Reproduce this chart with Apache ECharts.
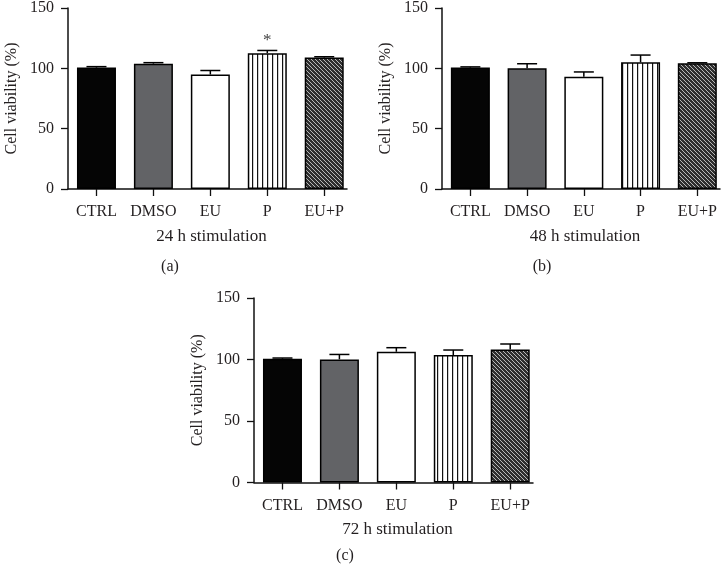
<!DOCTYPE html>
<html>
<head>
<meta charset="utf-8">
<script src="https://cdn.jsdelivr.net/npm/echarts@6/dist/echarts.min.js"></script>
<style>
html,body{margin:0;padding:0;background:#fff;}
#chart{width:727px;height:569px;}
</style>
</head>
<body>
<div id="chart"></div>
<script>
// ---- data ----
var categories = ['CTRL', 'DMSO', 'EU', 'P', 'EU+P'];
var valuesA = [100.6, 103.9, 94.9, 112.6, 109.0];
var errorsA = [0.8, 0.8, 3.3, 2.2, 0.6];
var sigA = ['', '', '', '*', ''];
var valuesB = [100.6, 100.0, 93.0, 105.0, 104.2];
var errorsB = [0.6, 3.8, 4.0, 6.0, 0.4];
var sigB = ['', '', '', '', ''];
var valuesC = [100.6, 100.1, 106.3, 103.6, 108.2];
var errorsC = [0.6, 4.0, 3.3, 4.1, 4.4];
var sigC = ['', '', '', '', ''];
var yTicks = [0, 50, 100, 150];
var xNames = ['24 h stimulation', '48 h stimulation', '72 h stimulation'];
var panelLabels = ['(a)', '(b)', '(c)'];
var yName = 'Cell viability (%)';

// ---- styles ----
var FONT = '"Liberation Serif", "DejaVu Serif", serif';
var TXT = '#231f20';
function makePattern(w, h, bg, fg, draw) {
  var c = document.createElement('canvas');
  c.width = w; c.height = h;
  var ctx = c.getContext('2d');
  ctx.fillStyle = bg; ctx.fillRect(0, 0, w, h);
  ctx.fillStyle = fg;
  draw(ctx);
  return { image: c, repeat: 'repeat' };
}
var vertPattern = makePattern(5, 5, '#ffffff', '#111111', function (ctx) {
  ctx.fillRect(2, 0, 1.2, 5);
});
var diagPattern = makePattern(4, 4, '#2e2e2e', '#b8b8b8', function (ctx) {
  for (var i = 0; i < 4; i++) ctx.fillRect(i, i, 1, 1);
});
var fills = ['#050505', '#626366', '#ffffff', vertPattern, diagPattern];

var grids = [
  { left: 68, top: 5, width: 279, height: 184 },
  { left: 442, top: 5, width: 278, height: 184 },
  { left: 254, top: 298, width: 279, height: 184.5 }
];
var panels = [
  { v: valuesA, e: errorsA, s: sigA },
  { v: valuesB, e: errorsB, s: sigB },
  { v: valuesC, e: errorsC, s: sigC }
];
var catIdx = categories.map(function (_, i) { return i; });

var xAxes = [], yAxes = [], series = [];
panels.forEach(function (p, k) {
  xAxes.push({
    gridIndex: k, type: 'value', min: -0.5, max: 4.4,
    name: xNames[k], nameLocation: 'middle', nameGap: 39,
    nameTextStyle: { fontFamily: FONT, fontSize: 17, color: TXT, padding: [0, 0, 0, 8] },
    axisLine: { show: true, onZero: false, lineStyle: { color: '#111', width: 1.5 } },
    axisTick: { show: true, length: 7, lineStyle: { color: '#111', width: 1.3 }, customValues: catIdx },
    axisLabel: {
      show: true, margin: 15, customValues: catIdx,
      fontFamily: FONT, fontSize: 16, color: TXT,
      formatter: function (v) { return categories[Math.round(v)]; }
    },
    splitLine: { show: false }
  });
  yAxes.push({
    gridIndex: k, type: 'value', min: 0, max: 150, interval: 50,
    name: yName, nameLocation: 'middle', nameGap: 48,
    nameTextStyle: { fontFamily: FONT, fontSize: 16, color: TXT },
    axisLine: { show: true, onZero: false, lineStyle: { color: '#111', width: 1.5 } },
    axisTick: { show: true, length: 7, lineStyle: { color: '#111', width: 1.3 } },
    axisLabel: { margin: 14, fontFamily: FONT, fontSize: 16, color: TXT },
    splitLine: { show: false }
  });
  series.push({
    type: 'bar', xAxisIndex: k, yAxisIndex: k, barWidth: 39,
    data: p.v.map(function (val, i) {
      return { value: [i, val], itemStyle: { color: fills[i], borderColor: '#000', borderWidth: 1.5 } };
    }),
    animation: false
  });
  series.push({
    type: 'custom', xAxisIndex: k, yAxisIndex: k, z: 5,
    data: p.v.map(function (val, i) { return [i, val, p.e[i]]; }),
    renderItem: function (params, api) {
      var x = api.value(0), m = api.value(1), e = api.value(2);
      var base = api.coord([x, m]);
      var top = api.coord([x, m + e]);
      var half = 10;
      var children = [
        { type: 'line', shape: { x1: base[0], y1: base[1], x2: top[0], y2: top[1] }, style: { stroke: '#000', lineWidth: 1.5 } },
        { type: 'line', shape: { x1: top[0] - half, y1: top[1], x2: top[0] + half, y2: top[1] }, style: { stroke: '#000', lineWidth: 1.5 } }
      ];
      var s = p.s[params.dataIndex];
      if (s) {
        children.push({ type: 'text', x: top[0], y: top[1] - 10,
          style: { text: s, fill: '#444', font: '17px ' + FONT, align: 'center', verticalAlign: 'middle' } });
      }
      return { type: 'group', children: children };
    },
    animation: false
  });
});

var labelPos = [[170, 267], [542, 267], [345, 556]];
var graphics = panelLabels.map(function (t, k) {
  return { type: 'text', x: labelPos[k][0], y: labelPos[k][1],
    style: { text: t, fill: TXT, font: '16px ' + FONT, align: 'center', verticalAlign: 'middle' } };
});

var chart = echarts.init(document.getElementById('chart'), null, { renderer: 'canvas' });
chart.setOption({
  backgroundColor: '#ffffff',
  animation: false,
  grid: grids,
  xAxis: xAxes,
  yAxis: yAxes,
  series: series,
  graphic: graphics
});
</script>
</body>
</html>
